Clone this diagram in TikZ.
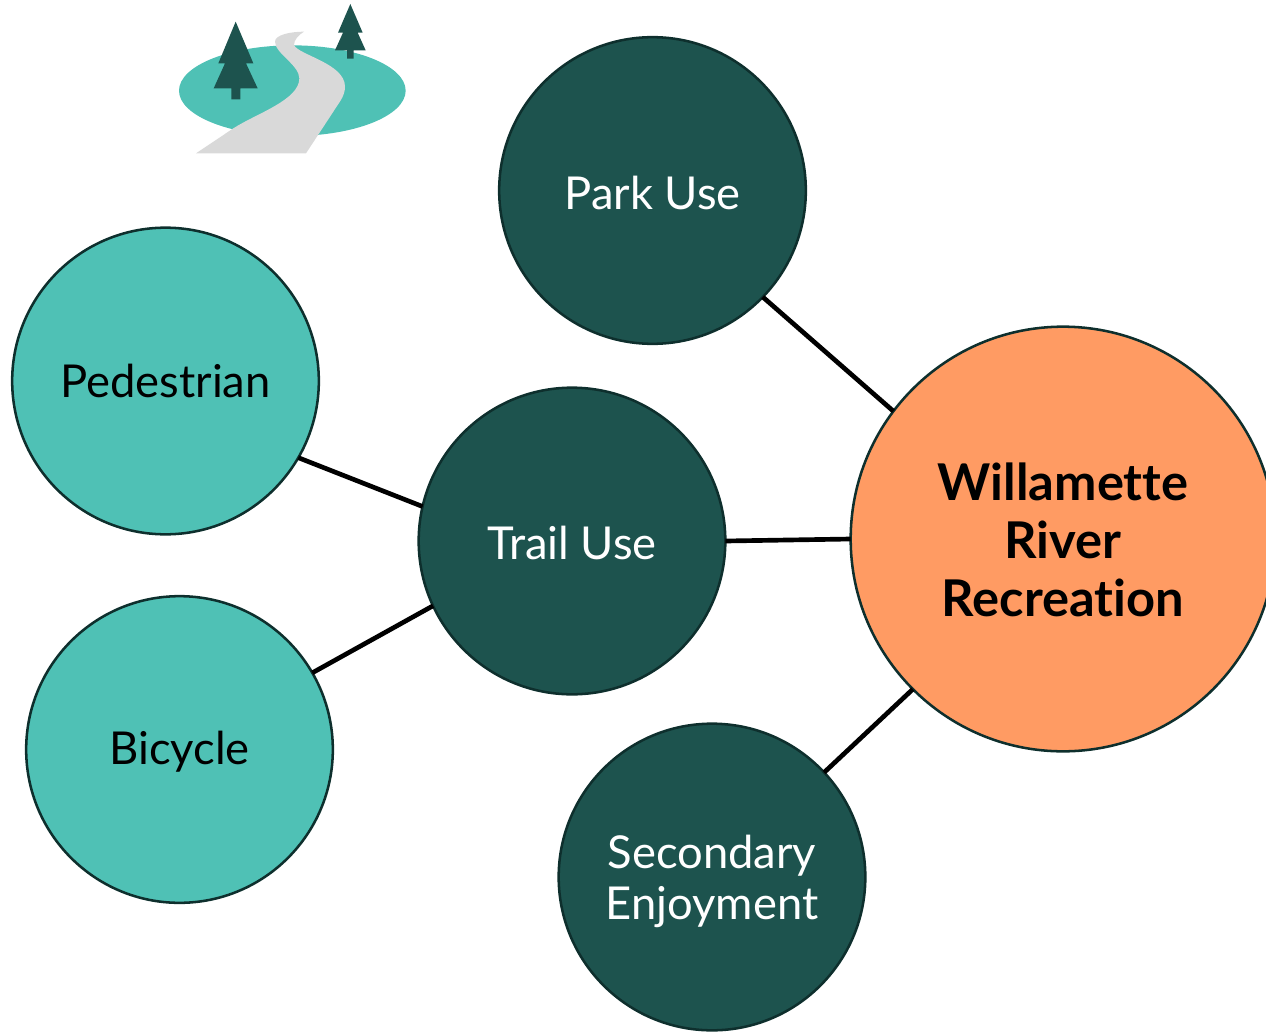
\documentclass[tikz,border=0pt]{standalone}
\usepackage{fontspec}
\setmainfont[Ligatures=NoCommon]{Lato}
\definecolor{darkgreen}{HTML}{1D534E}
\definecolor{teal2}{HTML}{4FC1B5}
\definecolor{orange2}{HTML}{FF9B63}
\definecolor{rim}{HTML}{0E2F2D}
\definecolor{road}{HTML}{D9D9D9}
\newcommand{\dropby}[2]{\raisebox{0pt}[\dimexpr\height+2\dimexpr#1\relax\relax]{#2}}
\newcommand{\lines}[1]{\begin{tabular}{@{}c@{}}#1\end{tabular}}
\tikzset{
  bubble/.style={circle,draw=rim,line width=1.9pt,minimum size=230pt,inner sep=0pt,outer sep=0pt,align=center,font=\fontsize{34}{38}\selectfont},
  darkbubble/.style={bubble,fill=darkgreen,text=white},
  lightbubble/.style={bubble,fill=teal2,text=black},
  mainbubble/.style={bubble,fill=orange2,text=black,minimum size=318.5pt,font=\fontsize{38}{43.2}\selectfont\bfseries},
  link/.style={draw=black,line width=3.5pt},
}
\begin{document}
\begin{tikzpicture}[x=0.75pt,y=-0.75pt]
\useasboundingbox (0,0) rectangle (1266,1031);
\clip (0,0) rectangle (1266,1031);
% icon
\begin{scope}[shift={(170,0)},x=0.25pt,y=-0.25pt]
\fill[teal2] (367,272) ellipse [x radius=85pt,y radius=34pt];
\fill[road] (78,460) -- (190,385) .. controls (260,340) and (388,300) .. (388,235)
  .. controls (388,195) and (315,160) .. (315,125) .. controls (315,105) and (360,95) .. (402,95)
  .. controls (385,105) and (372,120) .. (372,135) .. controls (385,165) and (525,190) .. (525,260)
  .. controls (525,290) and (505,310) .. (490,335) -- (408,460) -- cycle;
\fill[darkgreen] (197,65) -- (250,190) -- (228,190) -- (263,265) -- (211,265) -- (211,298) -- (184,298) -- (184,265) -- (131,265) -- (165,190) -- (145,190) -- cycle;
\fill[darkgreen] (541,12) -- (578,98) -- (563,98) -- (587,151) -- (551,151) -- (551,176) -- (531,176) -- (531,151) -- (495,151) -- (519,98) -- (504,98) -- cycle;
\end{scope}
% bubbles
\node[darkbubble] (park) at (652.5,190.5) {\dropby{2pt}{Park Use}};
\node[lightbubble] (ped) at (165.5,381) {Pedestrian};
\node[darkbubble] (trail) at (572,541) {\dropby{1.5pt}{Trail Use}};
\node[lightbubble] (bike) at (179.5,749.5) {\dropby{2pt}{Bicycle}};
\node[darkbubble] (sec) at (712,877) {\dropby{5.25pt}{\lines{Secondary\\Enjoyment}}};
\node[mainbubble] (will) at (1063,539) {\dropby{6pt}{\lines{Willamette\\River\\Recreation}}};
% connectors
\draw[link] (park.-44.5) -- (will.143.6);
\draw[link] (trail.0) -- (will.180);
\draw[link] (ped.-30) -- (trail.167.2);
\draw[link] (bike.30.7) -- (trail.205);
\draw[link] (sec.43.7) -- (will.225.2);
\end{tikzpicture}
\end{document}
